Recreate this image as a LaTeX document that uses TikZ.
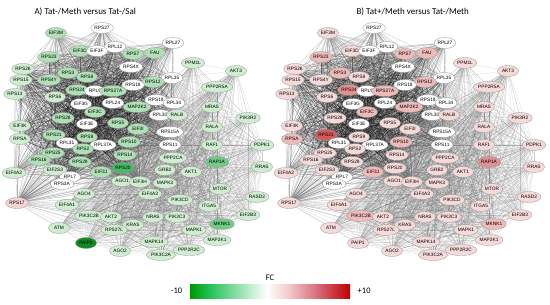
\documentclass[tikz,border=0pt]{standalone}
\usepackage{fontspec}
\setmainfont{Liberation Sans}
\newfontfamily\capfont{Carlito}
\usepackage{tikz}
\usetikzlibrary{shapes.geometric,positioning}

\definecolor{ga1}{RGB}{208,237,209}
\definecolor{ga2}{RGB}{176,224,181}
\definecolor{ga3}{RGB}{112,204,132}
\definecolor{ga4}{RGB}{70,186,100}
\definecolor{ga5}{RGB}{14,140,32}
\definecolor{pa}{RGB}{246,212,212}
\definecolor{pb1}{RGB}{246,218,218}
\definecolor{pb2}{RGB}{238,186,186}
\definecolor{pb3}{RGB}{226,144,146}
\definecolor{pb4}{RGB}{212,90,92}
\definecolor{fcg}{RGB}{0,152,0}
\definecolor{fcg2}{RGB}{34,192,86}
\definecolor{fcp}{RGB}{242,200,202}
\definecolor{fcm}{RGB}{210,96,110}
\definecolor{fcr}{RGB}{190,0,0}

\pgfdeclarehorizontalshading{fcshade}{100bp}{color(0bp)=(fcg); color(25bp)=(fcg); color(31bp)=(fcg2); color(49bp)=(white); color(56bp)=(fcp); color(66bp)=(fcm); color(75bp)=(fcr); color(100bp)=(fcr)}

\pgfdeclarelayer{bg}
\pgfsetlayers{bg,main}

\tikzset{
  gene/.style={ellipse, draw=gray!85, line width=0.3pt, inner sep=0.4pt,
    minimum width=21pt, minimum height=11pt, font=\fontsize{4.8}{5}\selectfont},
  coreedge/.style={draw=black, line width=0.2pt, opacity=0.34},
  fanedge/.style={draw=black!70, line width=0.2pt, opacity=0.4},
  sigedge/.style={draw=gray!80!black, line width=0.2pt, opacity=0.3},
  title/.style={anchor=west, font=\capfont\fontsize{9}{10}\selectfont},
  barlabel/.style={font=\capfont\fontsize{8.5}{10}\selectfont}
}

% name / x / y / colour A / colour B
\newcommand{\genes}{RPS27/102/28/white/white, EIF3M/56/33/ga2/pb1, RPL27/173/43/white/white,
  RPL12/115/47/white/white, EIF3D/80/51/ga2/pb1, EIF3F/97/51/white/white,
  RPS7/133/54/ga2/pb2, FAU/155/53/ga2/pb2, RPS23/49/57/ga2/pb2, PPM1L/193/63/ga1/pb1,
  RPS4X/131/67/white/white, RPS26/23/69/ga1/pb1, AKT3/236/71/ga1/pb1, RPS3/68/73/ga2/pb2,
  RPS8/87/77/ga2/pb1, RPL35/172/78/white/white, RPS15/21/80/ga1/pb1, RPS4Y/49/80/ga2/pb1,
  RPS12/153/82/ga2/pb2, RPS18/133/85/white/white, PPP2R5A/217/87/ga1/pb1, RPS24/77/90/ga2/pb3,
  RPL9/95/91/white/white, RPS27A/113/91/ga2/pb2, RPS13/15/94/ga1/pb1, RPS6/55/97/ga1/pb1,
  RPS19/156/100/white/white, RPL34/174/103/white/white, EIF3G/81/104/white/white,
  RPL24/113/103/white/white, MAP2K2/137/107/ga2/pb2, MRAS/212/107/ga1/pb1,
  EIF3C/95/112/ga2/pb2, RPL30/160/115/white/white, RALB/177/115/ga1/pb1,
  PIK3R2/248/118/ga1/pb1, RPS28/63/118/ga2/pb1, EIF3E/87/124/white/white,
  RPS5/118/123/ga2/pb1, EIF3K/20/126/ga1/pb1, RALA/212/127/ga1/pb1, EIF3I/138/129/ga2/pb1,
  RPS15A/170/132/white/white, RPS21/54/135/ga2/pb4, RPS9/87/137/ga2/pb1, RPSA/20/139/ga1/pb2,
  RPS10/129/142/ga2/pb2, RPL31/67/143/white/white, RPL37A/103/145/white/white,
  RAF1/212/145/ga1/pb1, RPS11/170/145/white/white, PDPK1/262/145/ga1/pb1,
  RPS2/83/149/ga2/pb1, RPS25/53/153/ga2/pb1, RPS14/125/155/ga2/pb1, PPP2CA/173/158/ga1/pb1,
  RPS16/39/160/ga2/pb1, RPS29/80/162/ga2/pb1, RAP1A/217/162/ga3/pb3, RRAS/262/167/ga1/pb1,
  RPS20/123/168/ga4/pb1, EIF2S3/55/170/ga1/pb1, GRB2/165/170/ga1/pb1, EIF3J/101/172/ga2/pb2,
  AKT1/191/172/ga1/pb1, EIF4A2/14/173/ga1/pb1, RPL7/70/177/white/white, AGO1/122/181/ga1/pb1,
  EIF3H/140/182/ga1/pb1, MAPK3/165/183/ga1/pb1, RPS3A/62/184/white/white, MTOR/220/189/ga1/pb1,
  AGO4/84/194/ga1/pb1, EIF4A3/150/194/ga1/pb1, RASD2/257/197/ga1/pb1, PIK3CD/180/200/ga1/pb1,
  RPS17/17/203/pa/pb1, EIF4A1/67/205/ga1/pb1, ITGA5/209/206/ga1/pb1, EIF2B3/248/215/ga1/pb1,
  PIK3C2B/89/216/ga1/pb2, AKT2/111/217/ga1/pb1, NRAS/153/217/ga1/pb1, PIK3C3/177/217/ga1/pb1,
  MKNK1/222/224/ga3/pb2, KRAS/133/225/ga1/pb1, ATM/59/228/ga1/pb1, RPS27L/114/230/ga1/pb1,
  MAPK1/194/230/ga1/pb1, MAP2K1/217/240/ga1/pb1, PAIP1/86/243/ga5/pb1, MAPK14/154/242/ga1/pb1,
  AGO2/120/251/ga1/pb1, PPP2R2C/189/250/ga1/pb1, PIK3C2A/161/255/ga1/pb1}

\newcommand{\corelist}{EIF3D,EIF3F,RPL12,RPS7,FAU,RPS23,RPS4X,RPS26,RPS3,RPS8,RPL35,RPS15,
  RPS4Y,RPS12,RPS18,RPS24,RPL9,RPS27A,RPS13,RPS6,RPS19,RPL34,EIF3G,RPL24,MAP2K2,EIF3C,
  RPL30,RPS28,EIF3E,RPS5,EIF3K,EIF3I,RPS15A,RPS21,RPS9,RPSA,RPS10,RPL31,RPL37A,RPS11,
  RPS2,RPS25,RPS14,RPS16,RPS29,RPS20,EIF2S3,EIF3J,RPL7,RPS3A,EIF3H,AGO1}
\newcommand{\fanlist}{RPS27,EIF3M,RPL27,RPS17,EIF4A2}
\newcommand{\siglist}{PPM1L,AKT3,PPP2R5A,MRAS,RALB,PIK3R2,RALA,RAF1,PDPK1,RAP1A,RRAS,
  PPP2CA,GRB2,AKT1,MAPK3,MTOR,EIF4A3,PIK3CD,RASD2,ITGA5,EIF2B3,NRAS,PIK3C3,MKNK1,KRAS,
  MAPK1,MAP2K1,MAPK14,PPP2R2C,PIK3C2A,AGO2,RPS27L,AKT2,PIK3C2B,ATM,PAIP1,AGO4,EIF4A1,RPS17}
\newcommand{\bridgelist}{AGO1,EIF3H,EIF3J,RPS20,RPS14,RPS10,EIF3I,RPS15A,RPS11,RPL30,RPL34,RPL35}

\begin{document}
\begin{tikzpicture}[x=1pt,y=-1pt]
  \useasboundingbox (0,0) rectangle (550,305);

  \foreach \g/\x/\y/\ca/\cb in \genes {
    \node[gene, fill=\ca] (a-\g) at (\x,\y) {\g};
    \node[gene, fill=\cb] (b-\g) at (\x+272,\y) {\g};
  }

  \begin{pgfonlayer}{bg}
  \foreach \p in {a,b}{
    \foreach \u [count=\i] in \corelist {
      \foreach \v [count=\j] in \corelist {
        \ifnum\j>\i\relax \draw[coreedge] (\p-\u) -- (\p-\v); \fi
      }
      \foreach \f in \fanlist { \draw[fanedge] (\p-\f) -- (\p-\u); }
    }
    \foreach \s [count=\i] in \siglist {
      \foreach \t [count=\j] in \siglist {
        \ifnum\j>\i\relax \draw[sigedge] (\p-\s) -- (\p-\t); \fi
      }
      \foreach \c in \bridgelist { \draw[sigedge] (\p-\c) -- (\p-\s); }
    }
  }
  \end{pgfonlayer}

  \node[title] (ta) at (31,12) {A) Tat-/Meth versus Tat-/Sal};
  \node[title] (tb) at (353,12) {B) Tat+/Meth versus Tat-/Meth};

  \node[shading=fcshade, minimum width=160pt, minimum height=14pt, inner sep=0pt] (bar) at (270,291) {};
  \node[barlabel, left=4pt of bar] (lo) {-10};
  \node[barlabel, right=4pt of bar] (hi) {+10};
  \node[barlabel, above=0pt of bar] (fc) {FC};
\end{tikzpicture}
\end{document}
